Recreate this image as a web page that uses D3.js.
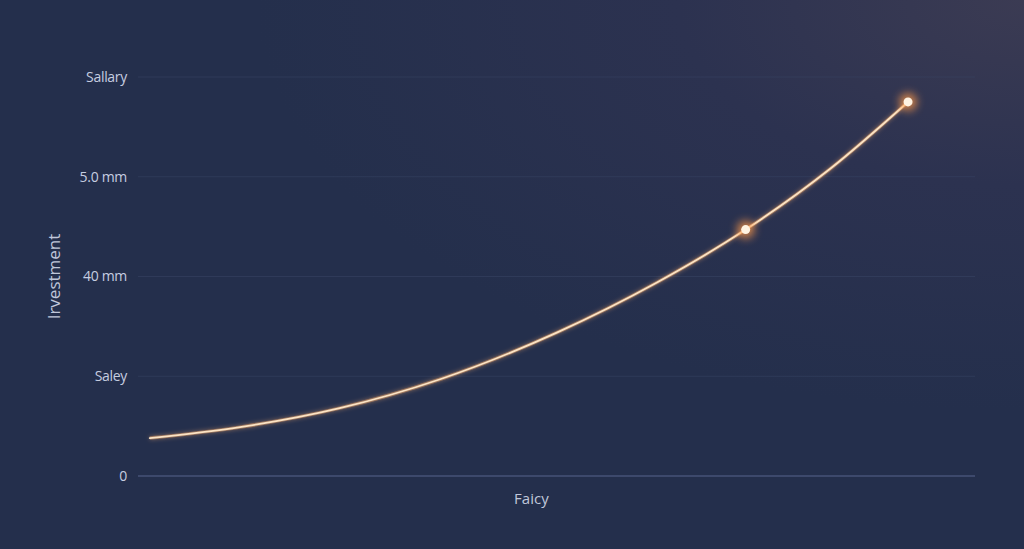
<!DOCTYPE html>
<html>
<head>
<meta charset="utf-8">
<script src="https://cdn.jsdelivr.net/npm/d3@7"></script>
<style>
  html, body { margin: 0; padding: 0; background: #252f4c; }
  svg { display: block; }
</style>
</head>
<body>
<div id="chart"></div>
<script>
// data
const xValues = [1.4, 12.2, 24.1, 36.1, 50.1, 62.0, 72.6, 82.7, 92.0];
const yValues = [0.38, 0.49, 0.68, 0.97, 1.44, 1.94, 2.47, 3.08, 3.75];
const highlightIdx = [6, 8];
const yTickValues = [0, 1, 2, 3, 4];
const yTickLabels = ['0', 'Saley', '40 mm', '5.0 mm', 'Sallary'];
const xTitle = 'Faicy';
const yTitle = 'Irvestment';

const W = 1024, H = 549;
const MARGIN = { TOP: 77, BOTTOM: 73, LEFT: 138, RIGHT: 49 };
const WIDTH = W - MARGIN.LEFT - MARGIN.RIGHT;
const HEIGHT = H - MARGIN.TOP - MARGIN.BOTTOM;

const data = xValues.map((x, i) => ({ x: x, y: yValues[i] }));

const svg = d3.select('#chart')
  .append('svg')
  .attr('width', W)
  .attr('height', H);

const defs = svg.append('defs');

// background gradient, lighter toward top right
const bg = defs.append('radialGradient')
  .attr('id', 'bg')
  .attr('cx', '100%').attr('cy', '0%').attr('r', '75%');
bg.append('stop').attr('offset', '0%').attr('stop-color', '#3b3b53');
bg.append('stop').attr('offset', '45%').attr('stop-color', '#2c3250');
bg.append('stop').attr('offset', '100%').attr('stop-color', '#242f4c');

svg.append('rect')
  .attr('width', W).attr('height', H)
  .attr('fill', 'url(#bg)');

const glow = defs.append('filter')
  .attr('id', 'glow')
  .attr('x', '-50%').attr('y', '-50%').attr('width', '200%').attr('height', '200%');
glow.append('feGaussianBlur').attr('stdDeviation', 2).attr('result', 'b');
const gm = glow.append('feMerge');
gm.append('feMergeNode').attr('in', 'b');
gm.append('feMergeNode').attr('in', 'SourceGraphic');

const dotGlow = defs.append('filter')
  .attr('id', 'dotGlow')
  .attr('x', '-200%').attr('y', '-200%').attr('width', '500%').attr('height', '500%');
dotGlow.append('feGaussianBlur').attr('stdDeviation', 4);

const g = svg.append('g')
  .attr('transform', `translate(${MARGIN.LEFT}, ${MARGIN.TOP})`);

//scales
const x = d3.scaleLinear().domain([0, 100]).range([0, WIDTH]);
const y = d3.scaleLinear().domain([0, 4]).range([HEIGHT, 0]);

// grid lines
g.selectAll('line.grid')
  .data(yTickValues.filter(d => d > 0))
  .join('line')
  .attr('class', 'grid')
  .attr('x1', 0).attr('x2', WIDTH)
  .attr('y1', d => y(d)).attr('y2', d => y(d))
  .attr('stroke', '#3a4566')
  .attr('stroke-opacity', 0.5)
  .attr('stroke-width', 1);

// baseline
g.append('line')
  .attr('x1', 0).attr('x2', WIDTH)
  .attr('y1', y(0)).attr('y2', y(0))
  .attr('stroke', '#56658c')
  .attr('stroke-width', 1.2);

// y axis labels
const yAxis = d3.axisLeft(y)
  .tickValues(yTickValues)
  .tickFormat((d, i) => yTickLabels[i])
  .tickSize(0)
  .tickPadding(11);
const yAxisGroup = g.append('g').call(yAxis);
yAxisGroup.select('.domain').remove();
yAxisGroup.selectAll('text')
  .attr('fill', '#c6cde0')
  .attr('font-family', '"Open Sans", "Noto Sans", sans-serif')
  .attr('font-size', 14)
  .attr('letter-spacing', -0.3);

// axis titles
g.append('text')
  .attr('x', - HEIGHT / 2)
  .attr('y', -78)
  .attr('text-anchor', 'middle')
  .attr('transform', 'rotate(-90)')
  .attr('fill', '#c0c7da')
  .attr('font-family', '"Open Sans", "Noto Sans", sans-serif')
  .attr('font-size', 17)
  .text(yTitle);

g.append('text')
  .attr('x', x(47))
  .attr('y', HEIGHT + 28)
  .attr('text-anchor', 'middle')
  .attr('fill', '#c0c7da')
  .attr('font-family', '"Open Sans", "Noto Sans", sans-serif')
  .attr('font-size', 15)
  .text(xTitle);

// curve
const line = d3.line()
  .x(d => x(d.x))
  .y(d => y(d.y))
  .curve(d3.curveMonotoneX);

g.append('path')
  .datum(data)
  .attr('d', line)
  .attr('fill', 'none')
  .attr('stroke', '#f2a86a')
  .attr('stroke-opacity', 0.45)
  .attr('stroke-width', 3.5)
  .attr('filter', 'url(#glow)');

g.append('path')
  .datum(data)
  .attr('d', line)
  .attr('fill', 'none')
  .attr('stroke', '#fbe3c4')
  .attr('stroke-width', 1.8)
  .attr('stroke-linecap', 'round');

// highlighted points
const pts = highlightIdx.map(i => data[i]);

g.selectAll('circle.halo')
  .data(pts)
  .join('circle')
  .attr('class', 'halo')
  .attr('cx', d => x(d.x))
  .attr('cy', d => y(d.y))
  .attr('r', 9)
  .attr('fill', '#ff9a4a')
  .attr('opacity', 0.75)
  .attr('filter', 'url(#dotGlow)');

g.selectAll('circle.dot')
  .data(pts)
  .join('circle')
  .attr('class', 'dot')
  .attr('cx', d => x(d.x))
  .attr('cy', d => y(d.y))
  .attr('r', 4.5)
  .attr('fill', '#fff3e2');
</script>
</body>
</html>
